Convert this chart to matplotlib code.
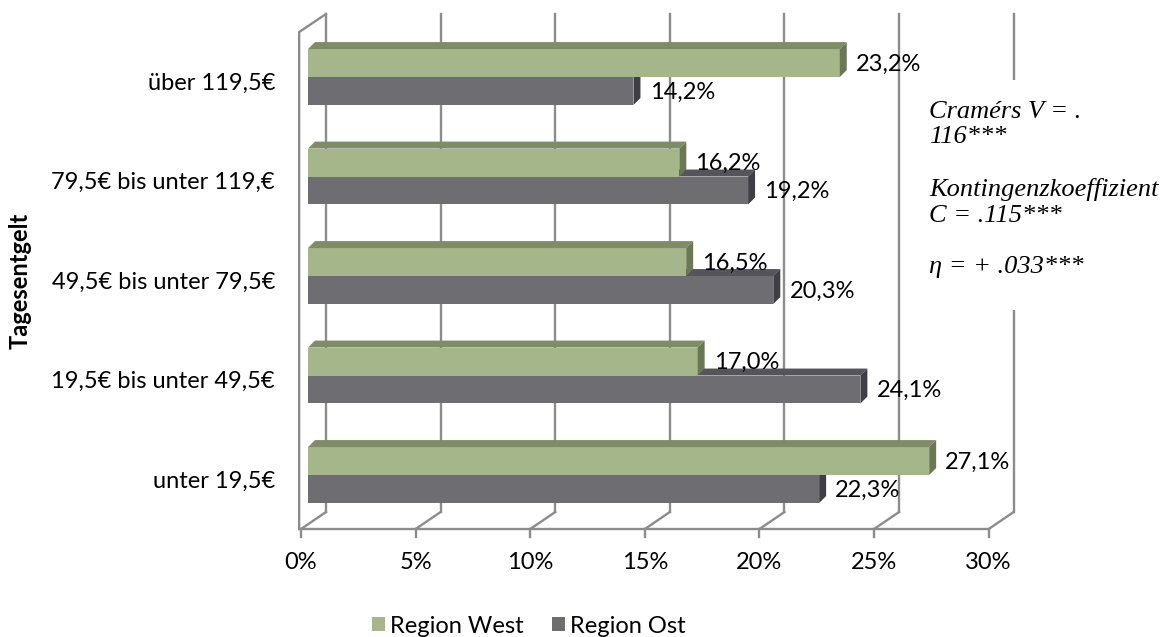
import matplotlib.pyplot as plt
from matplotlib.patches import Polygon, Rectangle

# Anteile nach Tagesentgelt (in %), von unten nach oben
kategorien = ['unter 19,5€', '19,5€ bis unter 49,5€', '49,5€ bis unter 79,5€',
              '79,5€ bis unter 119,€', 'über 119,5€']
west = [27.1, 17.0, 16.5, 16.2, 23.2]
ost = [22.3, 24.1, 20.3, 19.2, 14.2]
xticks = [0, 5, 10, 15, 20, 25, 30]
stat_text = ('Cramérs V = .\n116***\n\nKontingenzkoeffizient\n'
             'C = .115***\n\nη = + .033***')

GRUEN = ('#a6b68b', '#808b68', '#6b7856')   # Front, oben, Seite
GRAU = ('#6e6d72', '#55545a', '#3f3e44')
LINIE = '#8c8c8c'

# Tiefenversatz der Wand und der Balken (Datenkoordinaten)
WX, WY = 1.09, 0.171
BX, BY = 0.305, 0.070
BAR_H = 0.281
BAR_X0 = 0.305
BODEN = -0.543
WAND_OBEN = 4.633

plt.rcParams['font.family'] = ['Lato', 'DejaVu Sans']
fig = plt.figure(figsize=(11.67, 6.37), dpi=100)
ax = fig.add_axes([0, 0, 1, 1])
ax.set_xlim(-13.13, 37.78)
ax.set_ylim(-1.628, 4.774)
ax.axis('off')

# Rückwand-Gitterlinien, Bodenlinien und Teilstriche
for t in xticks:
    ax.plot([t + WX, t + WX], [BODEN + WY, WAND_OBEN], color=LINIE, lw=1.7, zorder=1)
    ax.plot([t, t + WX], [BODEN, BODEN + WY], color=LINIE, lw=1.7, zorder=1)
    ax.plot([t, t], [BODEN, BODEN - 0.08], color=LINIE, lw=1.7, zorder=1)
    ax.text(t, -0.884, f'{t}%', ha='center', va='center', fontsize=17)
ax.plot([xticks[0], xticks[-1]], [BODEN, BODEN], color=LINIE, lw=1.7, zorder=1)
# linke Seitenwand
ax.plot([-0.08, -0.08, WX], [BODEN, WAND_OBEN - 0.181, WAND_OBEN],
        color=LINIE, lw=1.7, zorder=1)


def balken_3d(y_unten, werte, farben, label):
    ax.barh([y + BAR_H / 2 for y in y_unten], werte, height=BAR_H, left=BAR_X0,
            color=farben[0], zorder=3, label=label)
    for y, v in zip(y_unten, werte):
        x1 = BAR_X0 + v
        oben = y + BAR_H
        ax.add_patch(Polygon([(BAR_X0, oben), (BAR_X0 + BX, oben + BY),
                              (x1 + BX, oben + BY), (x1, oben)],
                             closed=True, fc=farben[1], ec='none', zorder=3))
        ax.add_patch(Polygon([(x1, y), (x1, oben), (x1 + BX, oben + BY),
                              (x1 + BX, y + BY)],
                             closed=True, fc=farben[2], ec='none', zorder=3))
        ax.text(x1 + BX + 0.4, y + BAR_H / 2 - 0.01, f'{v:.1f}%'.replace('.', ','),
                ha='left', va='center', fontsize=17, zorder=5)


pos = list(range(len(kategorien)))
balken_3d([p - BAR_H for p in pos], ost, GRAU, 'Region Ost')
balken_3d(pos, west, GRUEN, 'Region West')

for p, k in zip(pos, kategorien):
    ax.text(-1.13, p - 0.06, k, ha='right', va='center', fontsize=17)

ax.text(-12.25, 1.95, 'Tagesentgelt', rotation=90, ha='center', va='center',
        fontsize=17, fontweight='bold')

# Textfeld mit Zusammenhangsmaßen
ax.add_patch(Rectangle((27.3, 1.66), 9.5, 2.31, fc='white', ec='none', zorder=2))
ax.text(27.4, 2.87, stat_text, ha='left', va='center', fontsize=19,
        family='Liberation Serif', style='italic', linespacing=1.22, zorder=4)

h, l = ax.get_legend_handles_labels()
ax.legend(h[::-1], l[::-1], loc='center', bbox_to_anchor=(0.453, 0.017),
          ncol=2, frameon=False, fontsize=17, handlelength=0.55, handleheight=0.55,
          handletextpad=0.2, columnspacing=1.2, borderpad=0)

fig.savefig('out.png', dpi=100)
